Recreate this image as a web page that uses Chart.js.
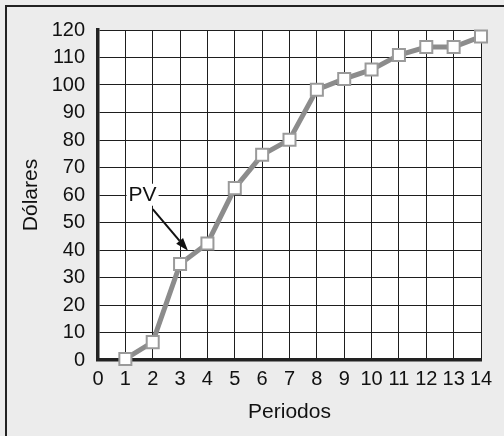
<!DOCTYPE html>
<html>
<head>
<meta charset="utf-8">
<script src="https://cdn.jsdelivr.net/npm/chart.js@4/dist/chart.umd.min.js"></script>
<style>
  html, body { margin: 0; padding: 0; background: #ececec; }
  canvas { display: block; }
</style>
</head>
<body>
<canvas id="pvChart" width="504" height="436"></canvas>
<script>
// values
const periods = [1, 2, 3, 4, 5, 6, 7, 8, 9, 10, 11, 12, 13, 14];
const dollars = [0.4, 6.5, 34.9, 42.4, 62.5, 74.6, 80.1, 98.3, 102.2, 105.6, 110.9, 113.8, 113.8, 117.6];
const xTitle = "Periodos";
const yTitle = "Dólares";

// "PV" callout, in data units
const calloutText = "PV";
const calloutAt = [1.63, 60.1];
const arrowFrom = [2.0, 54.9];
const arrowTo = [3.29, 39.7];

const FONT = '"Liberation Sans", Arial, Helvetica, sans-serif';
Chart.defaults.font.family = FONT;
Chart.defaults.color = "#111";

const framePlugin = {
  id: "frame",
  beforeDraw(chart) {
    const { ctx, chartArea: a } = chart;
    ctx.save();
    ctx.fillStyle = "#ececec";
    ctx.fillRect(0, 0, chart.width, chart.height);
    ctx.fillStyle = "#ffffff";
    ctx.fillRect(a.left, a.top, a.right - a.left, a.bottom - a.top);
    ctx.strokeStyle = "#222";
    ctx.lineWidth = 2;
    ctx.strokeRect(6, 6, chart.width + 20, chart.height + 20);
    ctx.restore();
  }
};

const calloutPlugin = {
  id: "callout",
  afterDatasetsDraw(chart) {
    const { ctx, scales: { x, y } } = chart;
    const tx = x.getPixelForValue(calloutAt[0]);
    const ty = y.getPixelForValue(calloutAt[1]);
    ctx.save();
    ctx.font = "21px " + FONT;
    const w = ctx.measureText(calloutText).width;
    ctx.fillStyle = "#fff";
    ctx.fillRect(tx - w / 2 - 2, ty - 11, w + 4, 22);
    ctx.fillStyle = "#111";
    ctx.textAlign = "center";
    ctx.textBaseline = "middle";
    ctx.fillText(calloutText, tx, ty);

    const x0 = x.getPixelForValue(arrowFrom[0]), y0 = y.getPixelForValue(arrowFrom[1]);
    const x1 = x.getPixelForValue(arrowTo[0]), y1 = y.getPixelForValue(arrowTo[1]);
    const ang = Math.atan2(y1 - y0, x1 - x0);
    const headLen = 13, headW = 4.5;
    const bx = x1 - headLen * Math.cos(ang), by = y1 - headLen * Math.sin(ang);
    ctx.strokeStyle = "#111";
    ctx.lineWidth = 2;
    ctx.beginPath();
    ctx.moveTo(x0, y0);
    ctx.lineTo(bx, by);
    ctx.stroke();
    ctx.fillStyle = "#111";
    ctx.beginPath();
    ctx.moveTo(x1, y1);
    ctx.lineTo(bx + headW * Math.sin(ang), by - headW * Math.cos(ang));
    ctx.lineTo(bx - headW * Math.sin(ang), by + headW * Math.cos(ang));
    ctx.closePath();
    ctx.fill();
    ctx.restore();
  }
};

new Chart(document.getElementById("pvChart"), {
  type: "line",
  data: {
    datasets: [{
      data: periods.map((p, i) => ({ x: p, y: dollars[i] })),
      borderColor: "#8c8c8c",
      borderWidth: 5,
      pointStyle: "rect",
      pointRadius: 8.5,
      pointBackgroundColor: "#ffffff",
      pointBorderColor: "#9a9a9a",
      pointBorderWidth: 2,
      tension: 0,
      clip: false
    }]
  },
  options: {
    responsive: false,
    devicePixelRatio: 1,
    animation: false,
    layout: { padding: { left: 0, top: 30, right: 23, bottom: 0 } },
    plugins: { legend: { display: false }, tooltip: { enabled: false } },
    scales: {
      x: {
        type: "linear",
        min: 0,
        max: 14,
        afterFit(scale) { scale.height = 76; },
        ticks: { stepSize: 1, autoSkip: false, maxRotation: 0, minRotation: 0, padding: 7, font: { size: 20 }, color: "#111" },
        grid: { color: "#1e1e1e", lineWidth: 1, drawTicks: false },
        border: { color: "#222", width: 3.5 },
        title: { display: true, text: xTitle, font: { size: 21 }, color: "#111", padding: { top: 0, bottom: 11 } }
      },
      y: {
        min: 0,
        max: 120,
        afterFit(scale) { scale.width = 98; },
        ticks: { stepSize: 10, autoSkip: false, padding: 13, font: { size: 20 }, color: "#111" },
        grid: { color: "#1e1e1e", lineWidth: 1, drawTicks: false },
        border: { color: "#222", width: 3.5 },
        title: { display: true, text: yTitle, font: { size: 21 }, color: "#111", padding: { top: 19, bottom: 0 } }
      }
    }
  },
  plugins: [framePlugin, calloutPlugin]
});
</script>
</body>
</html>
